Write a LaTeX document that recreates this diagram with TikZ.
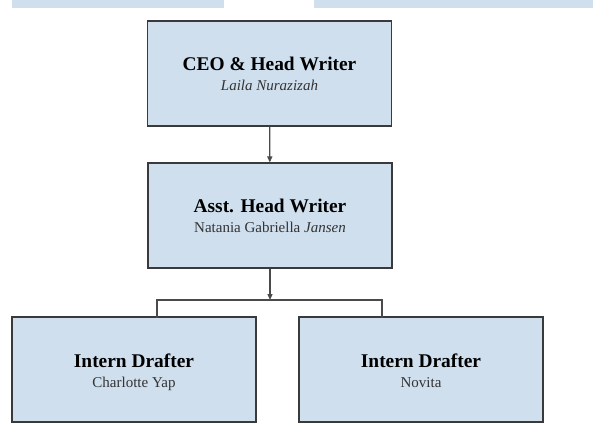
\documentclass[tikz,border=0pt]{standalone}
\usepackage{fontspec}
\setmainfont{Liberation Serif}
\usetikzlibrary{arrows.meta, positioning}
\definecolor{cCaja}{HTML}{CFDFEE}
\definecolor{cBorde}{HTML}{3A3A3A}
\definecolor{cLinea}{HTML}{4A4A4A}
\definecolor{cNombre}{HTML}{333333}
\tikzset{
    x=1pt, y=-1pt,
    puesto/.style={draw=cBorde, line width=1.1pt, fill=cCaja,
                   minimum width=244pt, minimum height=105pt,
                   align=center, inner sep=0pt,
                   font=\fontsize{15}{20}\selectfont},
    jefe/.style={-{Triangle[length=6pt, width=5pt]}, line width=1.3pt, cLinea},
    rama/.style={line width=1.3pt, cLinea, line cap=rect},
    franja/.style={fill=cCaja, draw=none},
}
\newcommand{\cargo}[1]{{\fontsize{19.4}{19}\selectfont\bfseries\rule{0pt}{21pt}#1}}
\newcommand{\nombre}[1]{{\color{cNombre}#1\rule[-6pt]{0pt}{6pt}}}

\begin{document}
\begin{tikzpicture}
    \useasboundingbox (0,0) rectangle (593,427);

    % franjas cortadas arriba
    \fill[franja] (12,0) rectangle (224,8);
    \fill[franja] (314,0) rectangle (593,8);

    \node[puesto] (ceo) at (269.5,73.5)
        {\cargo{CEO \& Head Writer}\\\nombre{\itshape Laila Nurazizah}};
    \node[puesto] (asst) at (270,215.5)
        {\cargo{Asst. Head Writer}\\\nombre{Natania Gabriella \textit{Jansen}}};
    \node[puesto] (internA) at (134,369.5)
        {\cargo{Intern Drafter}\\\nombre{Charlotte Yap}};
    \node[puesto] (internB) at (421,369.5)
        {\cargo{Intern Drafter}\\\nombre{Novita}};

    \coordinate (split) at (270,300);
    \coordinate (dropA) at (157,317);
    \coordinate (dropB) at (382,317);

    \draw[jefe] (ceo) -- (asst);
    \draw[jefe] (asst) -- (split);
    \draw[rama] (dropA) |- (split) -| (dropB);
\end{tikzpicture}
\end{document}
